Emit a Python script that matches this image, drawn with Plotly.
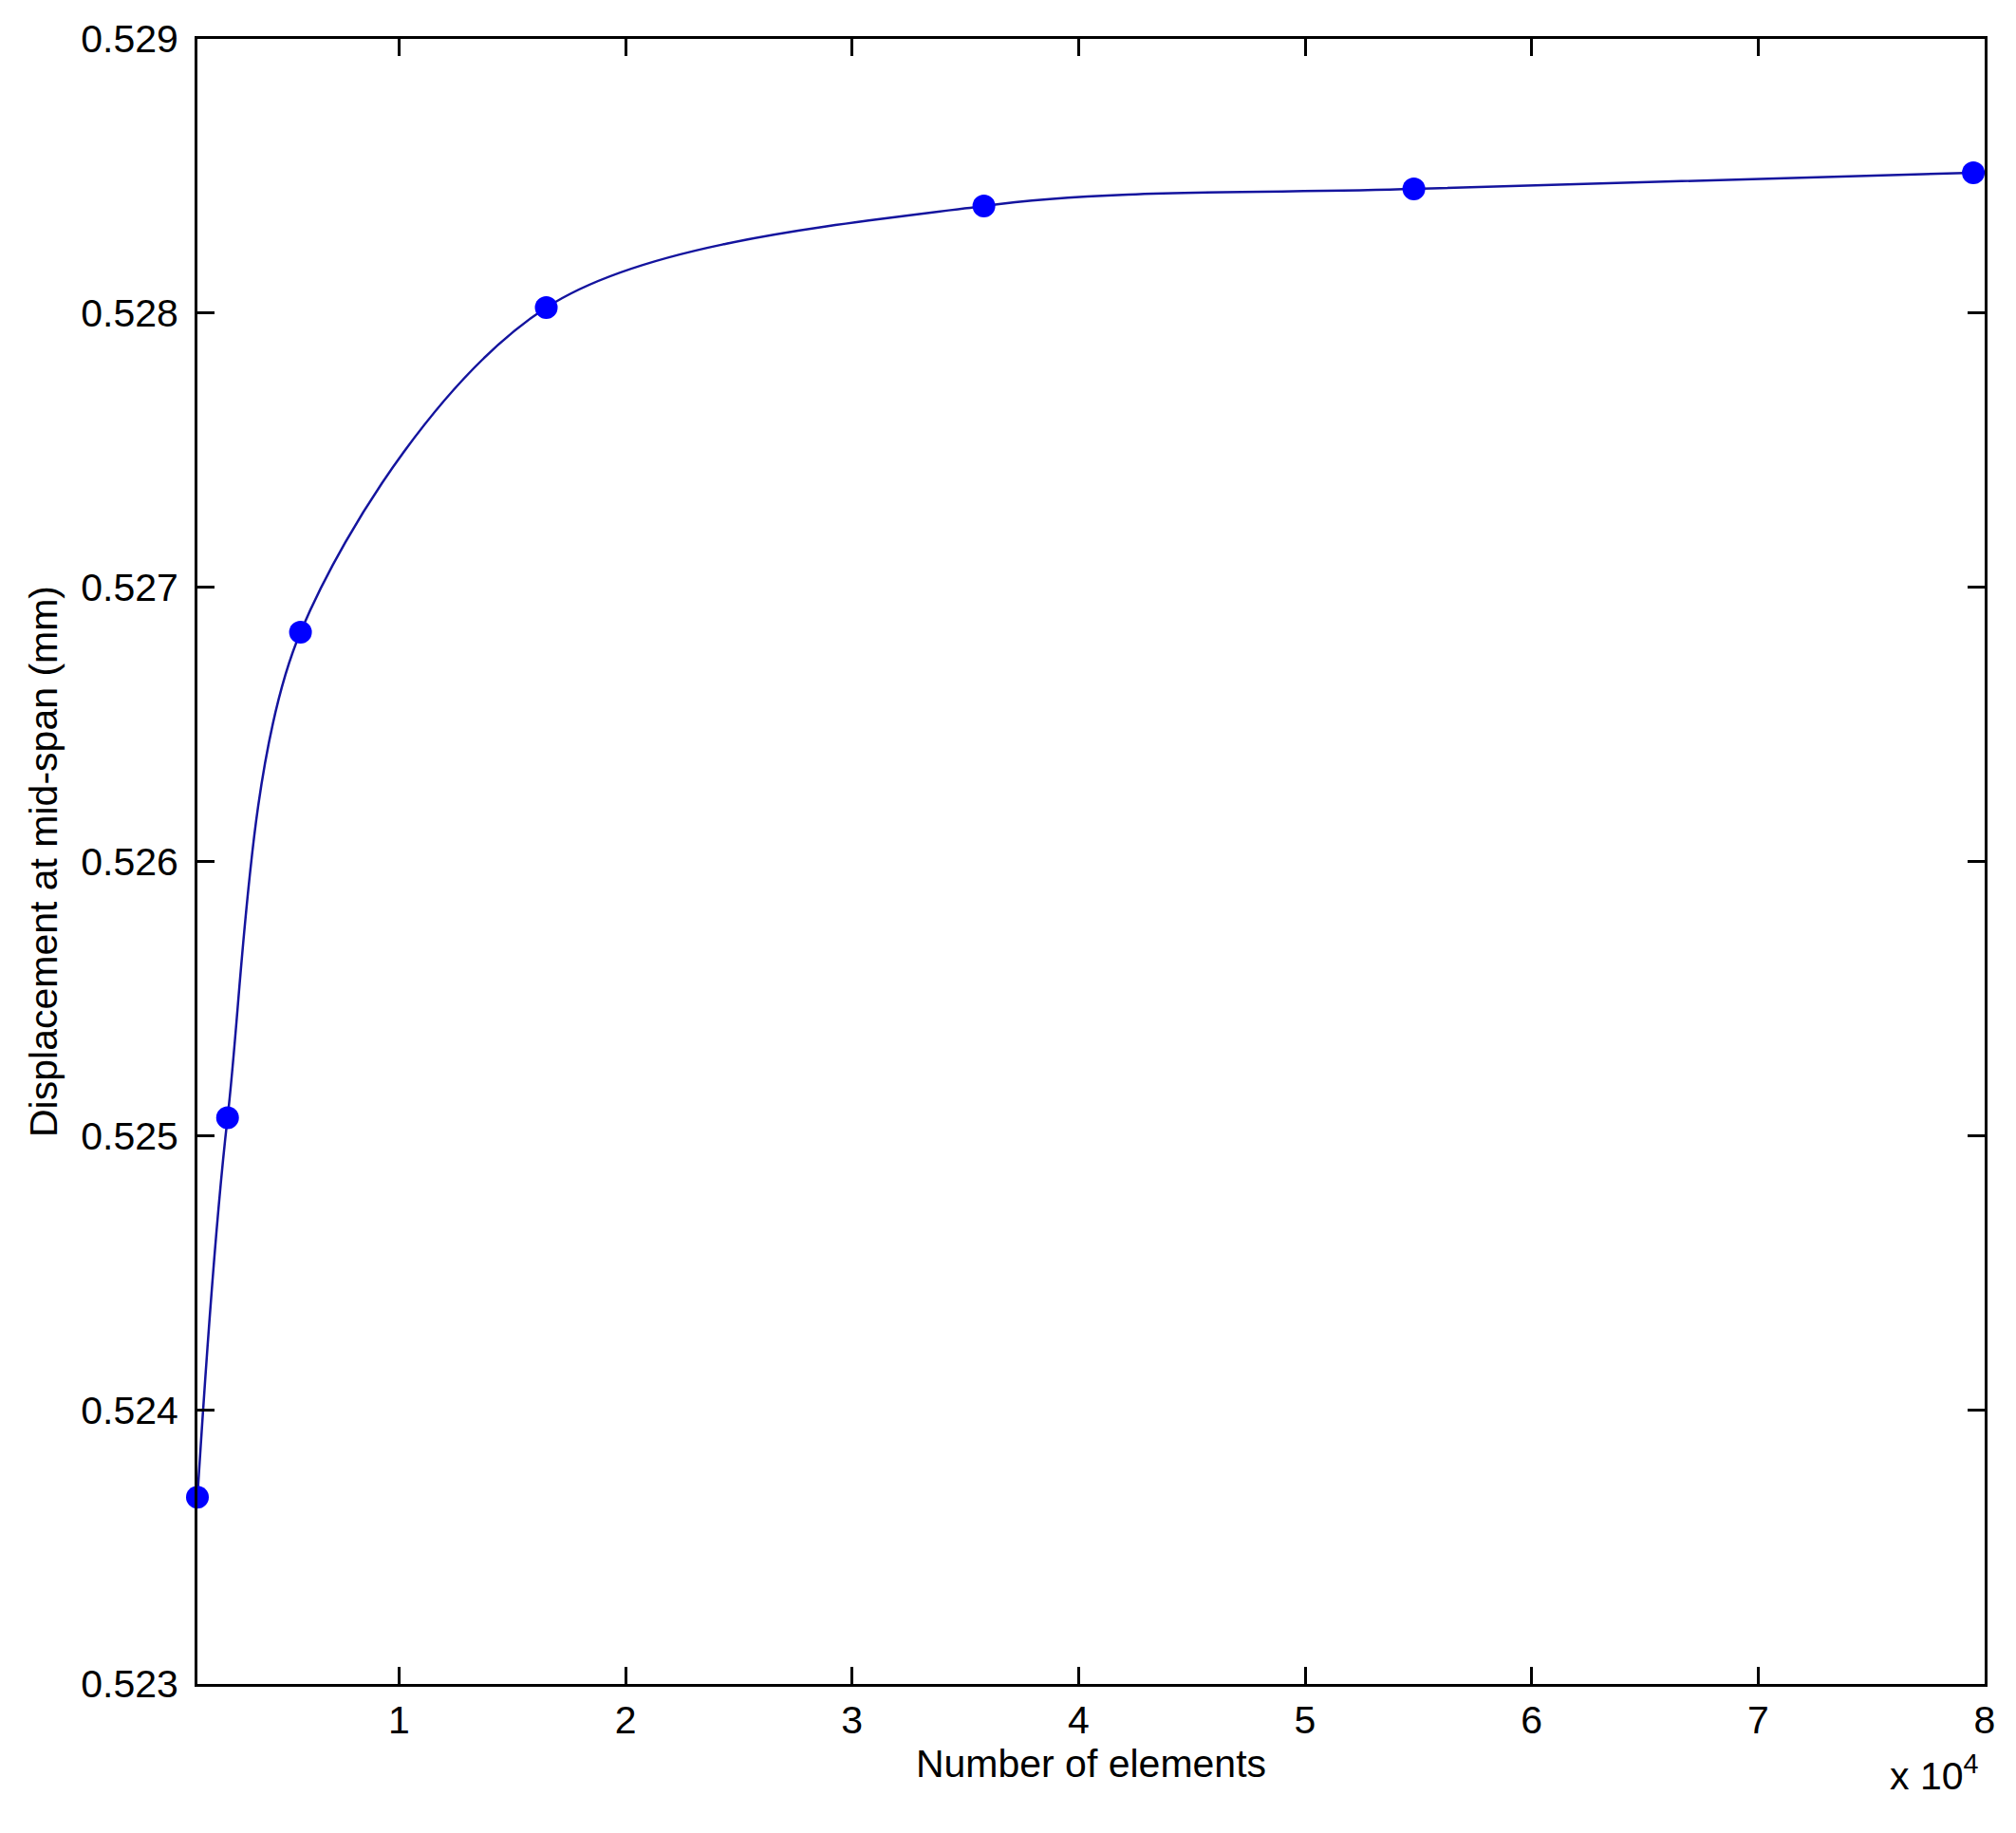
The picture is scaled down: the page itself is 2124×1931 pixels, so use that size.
import plotly.graph_objects as go

# Data
num_elements = [1100, 2430, 5650, 16500, 35820, 54800, 79500]
displacement = [0.523681, 0.525065, 0.526836, 0.528020, 0.528391, 0.528453, 0.528512]

x_tick_vals = [10000, 20000, 30000, 40000, 50000, 60000, 70000, 80000]
x_tick_text = ["1", "2", "3", "4", "5", "6", "7", "8"]
y_tick_vals = [0.523, 0.524, 0.525, 0.526, 0.527, 0.528, 0.529]
y_tick_text = ["0.523", "0.524", "0.525", "0.526", "0.527", "0.528", "0.529"]

FONT = "Liberation Sans, Arial, sans-serif"

fig = go.Figure()
fig.add_trace(go.Scatter(
    x=num_elements,
    y=displacement,
    mode="lines+markers",
    line=dict(color="#14149e", width=2.5, shape="spline", smoothing=0.9),
    marker=dict(color="#0000ff", size=24, symbol="circle"),
    cliponaxis=False,
    showlegend=False,
))

axis_common = dict(
    showgrid=False,
    zeroline=False,
    showline=True,
    linecolor="black",
    linewidth=3,
    mirror="ticks",
    ticks="inside",
    ticklen=18,
    tickwidth=2.5,
    tickcolor="black",
    tickfont=dict(family=FONT, size=41, color="black"),
)

fig.update_xaxes(
    range=[num_elements[0], 80000],
    tickmode="array",
    tickvals=x_tick_vals,
    ticktext=x_tick_text,
    ticklabelstandoff=0,
    title=dict(text="Number of elements", font=dict(family=FONT, size=41, color="black"), standoff=8),
    **axis_common,
)
fig.update_yaxes(
    range=[0.523, 0.529],
    tickmode="array",
    tickvals=y_tick_vals,
    ticktext=y_tick_text,
    ticklabelstandoff=9,
    title=dict(text="Displacement at mid-span (mm)", font=dict(family=FONT, size=41, color="black"), standoff=12),
    **axis_common,
)

fig.add_annotation(
    text="x 10<sup>4</sup>",
    xref="paper", yref="paper",
    x=1.0, y=0, xanchor="right", yanchor="top",
    yshift=-66, xshift=-4,
    showarrow=False,
    font=dict(family=FONT, size=41, color="black"),
)

fig.update_layout(
    width=2116,
    height=1923,
    margin=dict(l=200, r=33, t=33, b=157, autoexpand=False),
    paper_bgcolor="white",
    plot_bgcolor="white",
)

fig.write_html("out.html")
